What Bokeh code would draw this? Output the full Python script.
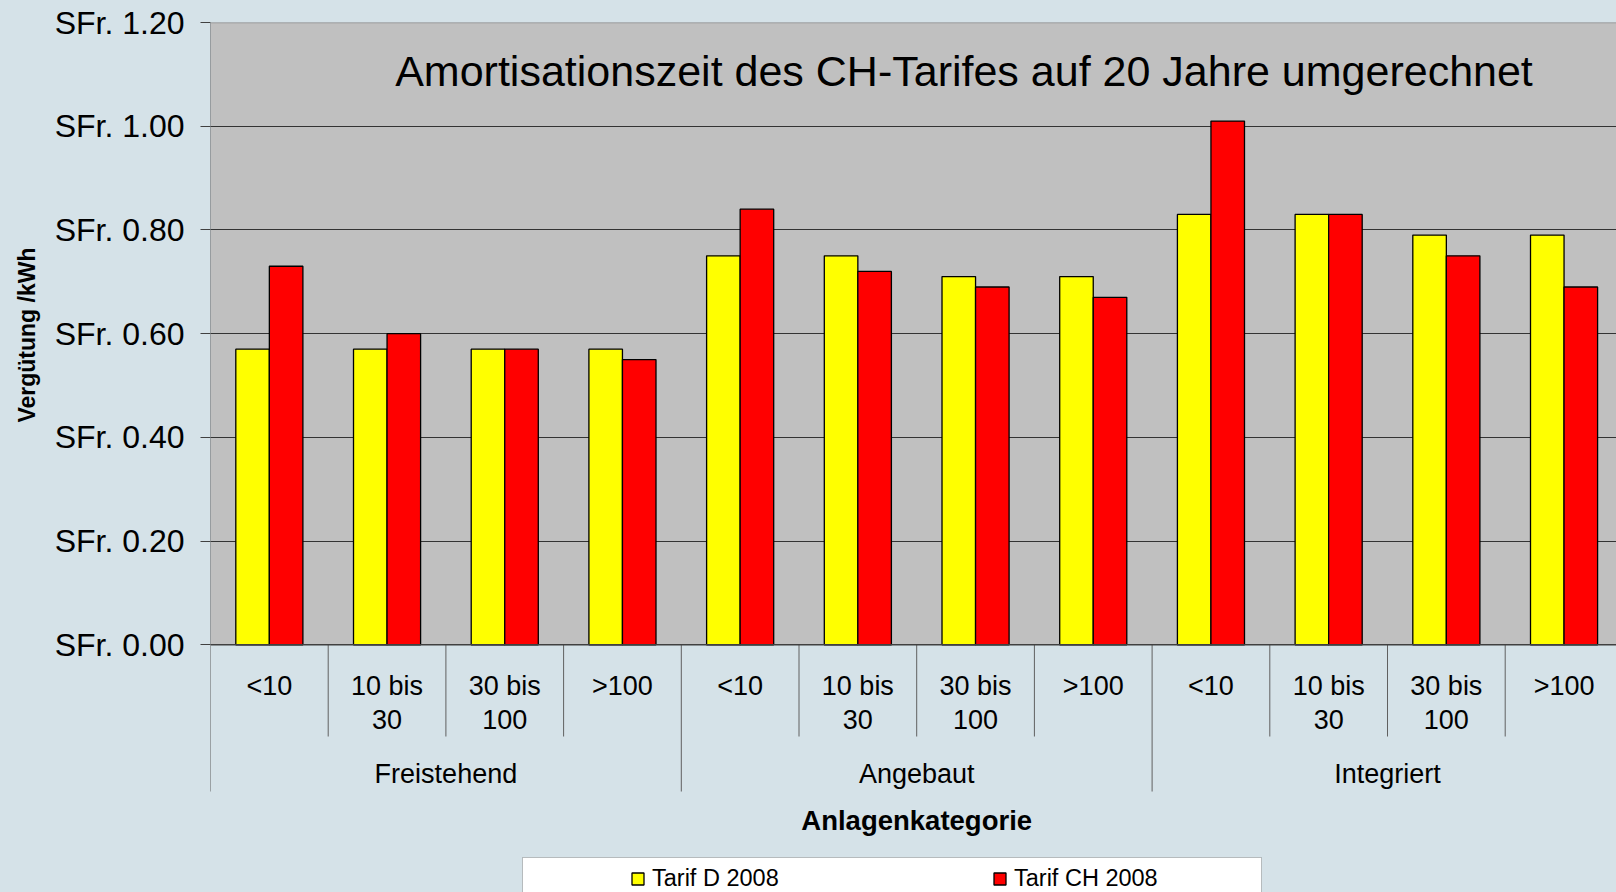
from bokeh.plotting import figure
from bokeh.models import (Range1d, FixedTicker, PrintfTickFormatter, BoxAnnotation, Span,
                          Label, Legend, LegendItem, ColumnDataSource, Title)
from bokeh.transform import dodge
from bokeh.core.properties import value
from bokeh.embed import file_html
from bokeh.resources import INLINE

# ---------------- data ----------------
GROUPS = ["Freistehend", "Angebaut", "Integriert"]
SUBCATS = ["<10", "10 bis\n30", "30 bis\n100", ">100"]
SERIES = ["Tarif D 2008", "Tarif CH 2008"]
TARIF_D = [0.57, 0.57, 0.57, 0.57, 0.75, 0.75, 0.71, 0.71, 0.83, 0.83, 0.79, 0.79]
TARIF_CH = [0.73, 0.60, 0.57, 0.55, 0.84, 0.72, 0.69, 0.67, 1.01, 0.83, 0.75, 0.69]
Y_TICKS = [0.0, 0.2, 0.4, 0.6, 0.8, 1.0, 1.2]
TITLE = "Amortisationszeit des CH-Tarifes auf 20 Jahre umgerechnet"
Y_LABEL = "Vergütung /kWh"
X_LABEL = "Anlagenkategorie"

# ---------------- layout / style ----------------
FONT = "Liberation Sans"
BG = "#D5E2E8"
GREY = "#C0C0C0"
YELLOW = "#FFFF00"
RED = "#FF0000"

W, H = 1616, 892
FRAME_LEFT = 210        # px of value axis
FRAME_TOP = 22          # px of top of plot area
ZERO_Y = 644.3          # px of value 0
CAT_W = 117.7           # px per category
BAR_W = 0.285           # fraction of a category per bar
Y_MAX = Y_TICKS[-1]
PX_Y = (ZERO_Y - FRAME_TOP) / Y_MAX

frame_w = W - FRAME_LEFT
frame_h = H - FRAME_TOP
x_end = frame_w / CAT_W
y_start = Y_MAX - frame_h / PX_Y


def px_x(px):
    return (px - FRAME_LEFT) / CAT_W


def px_y(py):
    return (ZERO_Y - py) / PX_Y


n_sub = len(SUBCATS)
n = len(GROUPS) * n_sub
x_center = [i + 0.5 for i in range(n)]

p = figure(width=W, height=H, x_range=Range1d(0, x_end), y_range=Range1d(y_start, Y_MAX),
           output_backend="svg", toolbar_location=None, x_axis_location=None, title=None,
           min_border=0, min_border_left=FRAME_LEFT, min_border_right=0,
           min_border_top=FRAME_TOP, min_border_bottom=0,
           background_fill_color=BG, background_fill_alpha=1.0,
           border_fill_color=BG, outline_line_color=None)

# grey plot area (0 .. max)
p.add_layout(BoxAnnotation(bottom=0, top=Y_MAX, fill_color=GREY, fill_alpha=1.0,
                           line_color=None, level="image"))
p.add_layout(Span(location=Y_MAX, dimension="width", line_color="#8a8a8a", line_width=1.5))

# grid
p.xgrid.visible = False
p.ygrid.ticker = FixedTicker(ticks=Y_TICKS[1:-1])
p.ygrid.grid_line_color = "#333333"
p.ygrid.grid_line_width = 1

# y axis
ax = p.yaxis[0]
ax.ticker = FixedTicker(ticks=Y_TICKS)
ax.formatter = PrintfTickFormatter(format="SFr. %.2f")
ax.axis_line_color = None
ax.major_tick_in = 0
ax.major_tick_out = 10
ax.major_tick_line_color = "#404040"
ax.minor_tick_line_color = None
ax.major_label_standoff = 16
ax.major_label_text_font = FONT
ax.major_label_text_font_size = "32px"
ax.major_label_text_color = "black"

# y axis title (left side, aligned to the value area)
p.add_layout(Title(text=Y_LABEL, align="right", offset=225, vertical_align="middle", standoff=22,
                   text_font=FONT, text_font_size="23px", text_font_style="bold",
                   text_color="black"), "left")

# bars
src = ColumnDataSource(dict(x=x_center, d=TARIF_D, ch=TARIF_CH,
                            sub=SUBCATS * len(GROUPS)))
r_d = p.vbar(x=dodge("x", -BAR_W / 2, range=p.x_range), top="d", width=BAR_W, source=src,
             fill_color=YELLOW, line_color="black", line_width=1.3)
r_ch = p.vbar(x=dodge("x", BAR_W / 2, range=p.x_range), top="ch", width=BAR_W, source=src,
              fill_color=RED, line_color="black", line_width=1.3)

# zero line
p.add_layout(Span(location=0, dimension="width", line_color="#404040", line_width=1.5))

# category separators
SUB_BOTTOM = px_y(736)
GROUP_BOTTOM = px_y(791)
group_bounds = [g * n_sub for g in range(len(GROUPS) + 1)]
sub_bounds = [i for i in range(1, n) if i % n_sub != 0]
p.segment(x0=sub_bounds, y0=[0] * len(sub_bounds), x1=sub_bounds, y1=[SUB_BOTTOM] * len(sub_bounds),
          line_color="#606060", line_width=1)
p.segment(x0=group_bounds, y0=[Y_MAX] + [0] * (len(group_bounds) - 1), x1=group_bounds,
          y1=[GROUP_BOTTOM] * len(group_bounds), line_color="#606060", line_width=1)

# category labels
p.text(x="x", y=0, text="sub", source=src, y_offset=26, text_align="center", text_baseline="top",
       text_font=value(FONT), text_font_size="27px", text_color="black", text_line_height=1.13)
g_src = ColumnDataSource(dict(x=[(g + 0.5) * n_sub for g in range(len(GROUPS))], t=GROUPS))
p.text(x="x", y=0, text="t", source=g_src, y_offset=114, text_align="center", text_baseline="top",
       text_font=value(FONT), text_font_size="27px", text_color="black")

# texts
p.add_layout(Label(x=px_x(963.5), y=px_y(70), text=TITLE, text_align="center",
                   text_baseline="alphabetic", text_font=FONT, text_font_size="43px",
                   text_color="black"))
p.add_layout(Label(x=n / 2, y=px_y(820), text=X_LABEL, text_align="center",
                   text_baseline="alphabetic", text_font=FONT, text_font_size="27.5px",
                   text_font_style="bold", text_color="black"))

# legend box and legend
p.add_layout(BoxAnnotation(left=px_x(522), right=px_x(1261), top=px_y(857), fill_color="white",
                           fill_alpha=1.0, line_color="#404040", line_width=1))
legend = Legend(items=[LegendItem(label=SERIES[0], renderers=[r_d]),
                       LegendItem(label=SERIES[1], renderers=[r_ch])],
                orientation="horizontal", location=(630 - FRAME_LEFT, 0),
                padding=0, margin=0, spacing=140, label_width=200, label_height=26,
                glyph_width=15, glyph_height=15, label_standoff=7,
                border_line_color=None, background_fill_alpha=0,
                label_text_font=FONT, label_text_font_size="23.5px", label_text_color="black")
p.add_layout(legend)

html = file_html(p, INLINE)
html = html.replace("</head>", "<style>html, body { background-color: %s; }</style></head>" % BG, 1)
open("out.html", "w").write(html)
